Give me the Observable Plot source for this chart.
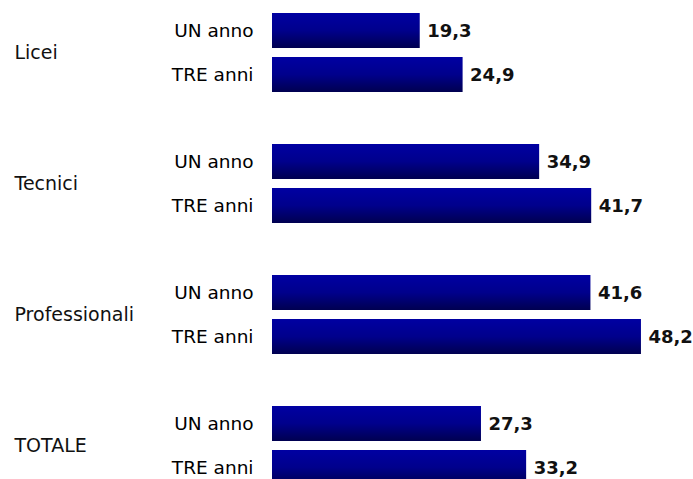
<!DOCTYPE html>
<html>
<head>
<meta charset="utf-8">
<script src="https://cdn.jsdelivr.net/npm/d3@7"></script>
<script src="https://cdn.jsdelivr.net/npm/@observablehq/plot@0.6"></script>
<style>
  html, body { margin: 0; padding: 0; background: #fff; overflow: hidden; }
</style>
</head>
<body>
<div id="chart"></div>
<script>
const groups = ["Licei", "Tecnici", "Professionali", "TOTALE"];
const periods = ["UN anno", "TRE anni"];
const unAnno = [19.3, 34.9, 41.6, 27.3];
const treAnni = [24.9, 41.7, 48.2, 33.2];

const rows = [];
groups.forEach((g, i) => {
  rows.push({group: g, period: periods[0], value: unAnno[i]});
  rows.push({group: g, period: periods[1], value: treAnni[i]});
});

const fmt = v => d3.format(".1f")(v).replace(".", ",");

const chart = Plot.plot({
  width: 693,
  height: 496,
  marginLeft: 272,
  marginRight: 0,
  marginTop: 0,
  marginBottom: 0,
  x: {domain: [0, 55], axis: null},
  y: {domain: periods, paddingInner: 0.21, paddingOuter: 0.105, label: null},
  fy: {domain: groups, paddingInner: 0.332, paddingOuter: 0.0486, axis: null, label: null},
  style: {fontFamily: "DejaVu Sans", fontSize: "18.5px", color: "#000", background: "#fff"},
  marks: [
    Plot.barX(rows, {x: "value", y: "period", fy: "group", fill: "url(#barGrad)"}),
    Plot.text(rows, {
      x: "value", y: "period", fy: "group",
      text: d => fmt(d.value),
      textAnchor: "start", dx: 7,
      fontWeight: "bold", fontSize: 18, fill: "#111"
    }),
    Plot.axisY({tickSize: 0, tickPadding: 19, fontSize: 18.5, label: null}),
    Plot.text(groups, {
      fy: d => d, text: d => d,
      frameAnchor: "left", textAnchor: "start", dx: -258,
      fontSize: 19, fill: "#111"
    })
  ]
});

const svg = d3.select(chart);
const grad = svg.insert("defs", ":first-child")
  .append("linearGradient")
  .attr("id", "barGrad")
  .attr("x1", 0).attr("y1", 0).attr("x2", 0).attr("y2", 1);
grad.append("stop").attr("offset", "0%").attr("stop-color", "#0000A2");
grad.append("stop").attr("offset", "50%").attr("stop-color", "#00008C");
grad.append("stop").attr("offset", "100%").attr("stop-color", "#000050");

document.getElementById("chart").appendChild(chart);
</script>
</body>
</html>
